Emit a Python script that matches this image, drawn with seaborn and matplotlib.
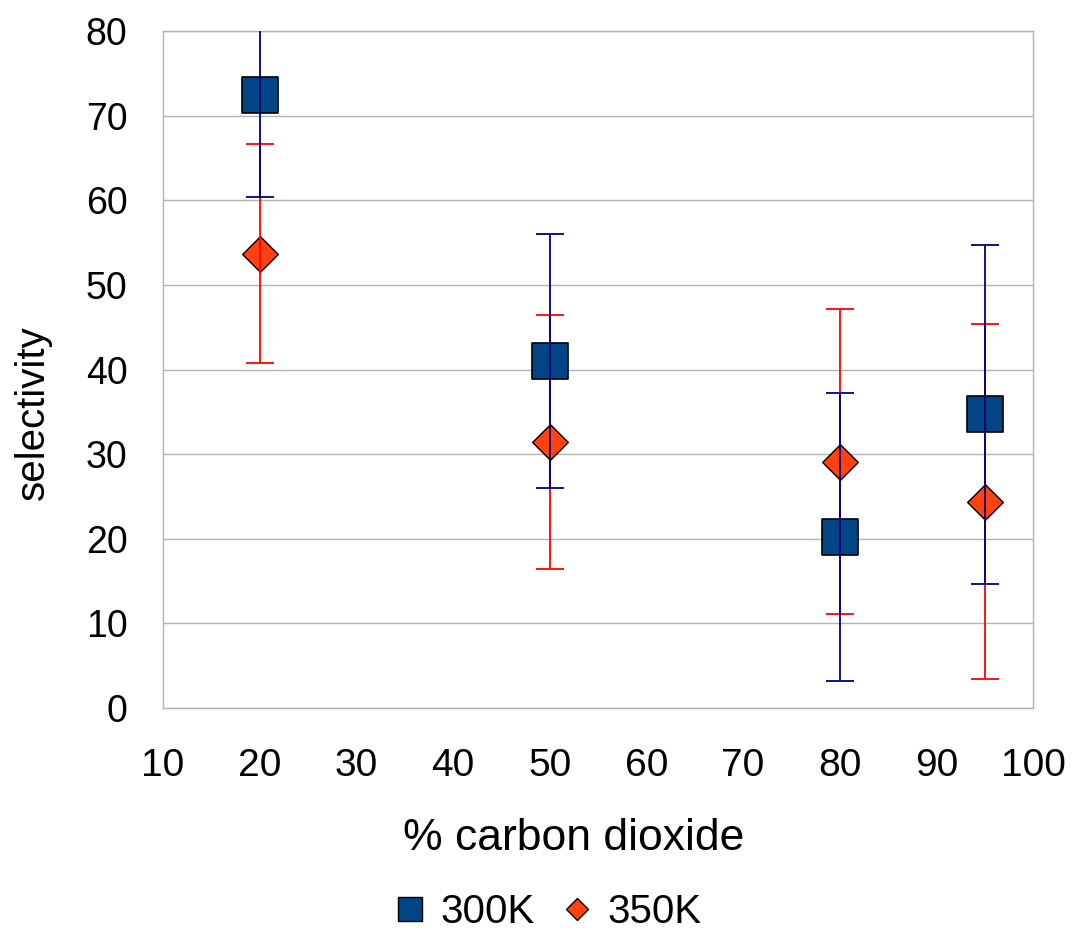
import matplotlib
matplotlib.use("Agg")
import matplotlib.pyplot as plt
from matplotlib.lines import Line2D
import seaborn as sns
import pandas as pd

# CO2 fraction (%) and selectivity with error half-widths at two temperatures
co2_percent = [20, 50, 80, 95]
sel_300k = [72.4, 41.0, 20.2, 34.7]
err_300k = [12.0, 15.0, 17.0, 20.0]
sel_350k = [53.7, 31.4, 29.1, 24.4]
err_350k = [12.9, 15.0, 18.0, 21.0]
series_names = ["300K", "350K"]
x_ticks = [10, 20, 30, 40, 50, 60, 70, 80, 90, 100]
y_ticks = [0, 10, 20, 30, 40, 50, 60, 70, 80]

BLUE = "#004586"
ORANGE = "#ff420e"
BLUE_ERR = "#000080"
RED_ERR = "#ff0000"
GRID = "#b3b3b3"
TEXT = "#000000"

sns.set_theme(style="white")
plt.rcParams["font.family"] = ["Liberation Sans", "DejaVu Sans"]

df300 = pd.DataFrame({"x": co2_percent, "y": sel_300k})
df350 = pd.DataFrame({"x": co2_percent, "y": sel_350k})

fig = plt.figure(figsize=(10.72, 9.32), dpi=100)
ax = fig.add_axes([0.152, 0.2403, 0.8116, 0.7264])

sns.scatterplot(data=df300, x="x", y="y", marker="s", s=672, color=BLUE,
                edgecolor="black", linewidth=1.2, ax=ax, zorder=3)
sns.scatterplot(data=df350, x="x", y="y", marker="D", s=330, color=ORANGE,
                edgecolor="black", linewidth=1.0, ax=ax, zorder=3)

ax.errorbar(co2_percent, sel_350k, yerr=err_350k, fmt="none", ecolor=RED_ERR,
            elinewidth=1.3, capsize=10.4, capthick=1.3, zorder=4)
ax.errorbar(co2_percent, sel_300k, yerr=err_300k, fmt="none", ecolor=BLUE_ERR,
            elinewidth=1.3, capsize=10.4, capthick=1.3, zorder=5)

ax.set_xlim(10, 100)
ax.set_ylim(0, 80)
ax.set_xticks(x_ticks)
ax.set_yticks(y_ticks)
# horizontal grid only; the frame closes the plot area on the sides
ax.grid(True, axis="y", color=GRID, linewidth=1.0)
ax.grid(False, axis="x")
ax.set_axisbelow(True)
for sp in ax.spines.values():
    sp.set_color(GRID)
    sp.set_linewidth(1.0)

ax.tick_params(axis="both", which="major", direction="out", length=15.5,
               width=1.0, color=GRID, labelcolor=TEXT)
ax.tick_params(axis="y", pad=10, labelsize=27)
ax.tick_params(axis="x", pad=13, labelsize=28)

ax.set_xlabel("% carbon dioxide", fontsize=32, color=TEXT)
ax.xaxis.set_label_coords(0.472, -0.163)
ax.set_ylabel("selectivity", fontsize=29, color=TEXT)
ax.yaxis.set_label_coords(-0.128, 0.437)

handles = [
    Line2D([], [], linestyle="none", marker="s", markersize=17.3,
           markerfacecolor=BLUE, markeredgecolor="black", markeredgewidth=1.0),
    Line2D([], [], linestyle="none", marker="D", markersize=11.7,
           markerfacecolor=ORANGE, markeredgecolor="black", markeredgewidth=1.0),
]
fig.legend(handles, series_names, loc="center", bbox_to_anchor=(0.509, 0.021),
           ncol=2, frameon=False, fontsize=29, handletextpad=0.25,
           columnspacing=0.55, handlelength=1.0, labelcolor=TEXT,
           borderpad=0.1)

fig.savefig("out.png", dpi=100)
